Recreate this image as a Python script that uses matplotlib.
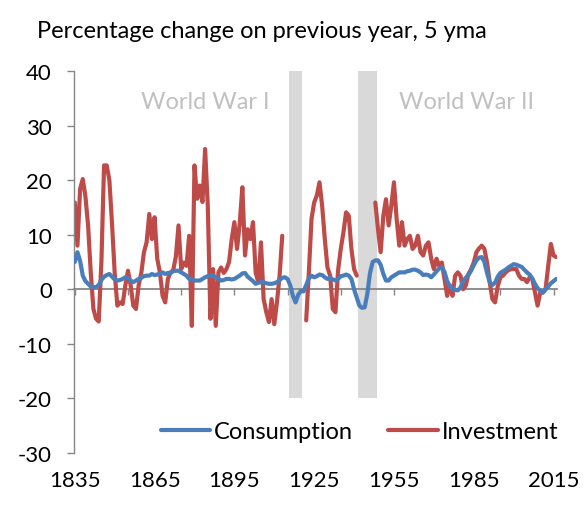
import numpy as np
import matplotlib
matplotlib.use("Agg")
import matplotlib.pyplot as plt

plt.rcParams['font.family'] = ['Lato', 'DejaVu Sans']

years = np.arange(1835, 2017)

consumption = [
    5.0, 6.8, 5.2, 2.5, 1.5, 1.0, 0.5, 0.4, 0.4, 0.8,
    1.7, 2.3, 2.6, 2.8, 2.3, 1.8, 1.6, 1.7, 1.9, 2.2,
    2.0, 1.6, 1.3, 1.6, 1.9, 2.1, 2.4, 2.5, 2.5, 2.8,
    2.6, 2.7, 2.9, 3.1, 2.8, 3.0, 3.0, 3.3, 3.4, 3.4,
    3.1, 2.8, 2.5, 1.9, 1.9, 1.6, 1.6, 1.6, 1.9, 2.2,
    2.4, 2.5, 2.5, 2.2, 1.9, 1.6, 1.7, 1.9, 1.9, 1.8,
    1.9, 2.2, 2.5, 2.9, 3.0, 2.3, 1.9, 1.5, 1.0, 1.2,
    1.3, 1.3, 1.1, 1.0, 1.0, 1.1, 1.3, 1.7, 2.1, 2.2,
    1.9, 0.7, -1.2, -2.4, -1.0, -0.3, -0.4, 0.8, 2.0, 2.5,
    2.2, 2.4, 2.7, 2.6, 2.2, 1.9, 2.1, 1.8, 1.6, 1.9,
    2.4, 2.5, 2.7, 2.5, 1.9, 0.0, -1.5, -3.0, -3.4, -3.3,
    -0.8, 3.0, 5.0, 5.3, 5.3, 4.5, 2.8, 1.6, 1.6, 2.2,
    2.5, 2.8, 3.1, 3.1, 3.1, 3.3, 3.4, 3.6, 3.6, 3.4,
    3.1, 2.6, 2.7, 2.6, 2.2, 2.7, 3.3, 3.8, 4.0, 3.2,
    1.5, 0.6, 0.1, -0.1, -0.2, 0.3, 1.5, 2.1, 2.6, 3.4,
    4.4, 5.3, 5.8, 5.9, 5.0, 3.0, 1.3, 0.8, 1.2, 2.3,
    3.0, 3.3, 3.6, 4.0, 4.3, 4.6, 4.5, 4.3, 4.1, 3.6,
    3.1, 2.7, 2.0, 1.0, 0.2, -0.3, -0.6, 0.0, 0.5, 1.1,
    1.5, 1.9,
]

nan = np.nan
investment = [
    15.9, 8.0, 18.4, 20.2, 17.0, 11.7, 3.1, -3.6, -5.4, -5.9,
    5.0, 22.7, 22.7, 20.0, 12.0, 3.0, -3.0, -2.4, -2.7, 0.7,
    3.4, 0.7, -3.0, -3.6, 0.7, 3.0, 6.8, 8.6, 13.8, 9.2,
    13.2, 5.6, 3.1, -1.2, -2.4, 1.9, 3.1, 3.5, 6.0, 11.7,
    3.7, 4.9, 4.3, 9.8, -6.7, 22.7, 16.6, 19.0, 16.0, 25.7,
    15.3, -5.4, 3.7, -6.7, 3.1, 4.0, 3.0, 3.7, 5.0, 9.2,
    12.3, 7.4, 12.0, 18.7, 6.2, 11.0, 9.2, 12.3, 3.1, 1.3,
    8.6, -1.8, -4.2, -6.0, -1.8, -6.4, -2.4, 2.5, 9.8, nan,
    nan, nan, nan, nan, nan, nan, nan, -5.7, 3.1, 12.9,
    15.9, 17.2, 19.6, 15.3, 9.2, 4.0, 2.5, -3.6, -4.2, 3.5,
    7.4, 10.4, 14.1, 13.5, 7.4, 3.7, 2.5, nan, nan, nan,
    nan, nan, nan, 15.9, 11.0, 6.8, 13.5, 16.5, 11.7, 15.3,
    19.6, 12.9, 8.0, 12.3, 8.0, 9.2, 9.8, 7.4, 8.0, 9.8,
    6.8, 6.2, 8.0, 8.6, 5.6, 3.7, 5.6, 4.3, 4.9, 1.9,
    -1.2, 0.7, -1.2, 2.5, 3.1, 2.5, 0.0, 0.7, 2.8, 3.7,
    4.9, 6.8, 7.5, 8.0, 7.4, 4.9, 1.3, -1.8, -2.4, 0.5,
    2.2, 2.5, 3.1, 3.5, 3.7, 3.7, 3.7, 2.5, 1.9, 1.9,
    1.3, 2.2, 1.9, -0.6, -3.0, -0.6, -0.6, 0.0, 4.3, 8.3,
    6.2, 5.9,
]

war_years = [1916, 1917, 1918, 1919, 1920, 1942, 1943, 1944, 1945, 1946, 1947, 1948]
war_top = 40
war_bottom = -20

tick_years = list(range(1835, 2016, 20))
label_years = [1835, 1865, 1895, 1925, 1955, 1985, 2015]
y_ticks = [40, 30, 20, 10, 0, -10, -20, -30]

W, H = 588, 506
fig = plt.figure(figsize=(W / 100, H / 100), dpi=100)
ax = fig.add_axes([74 / W, 1 - 454 / H, (557 - 74) / W, (454 - 72) / H])

FS = 17
FS_TICK = 16
grey_axis = '#868686'

# war bands
ax.bar(war_years, war_top - war_bottom, bottom=war_bottom, width=0.97,
       color='#d9d9d9', edgecolor='none', zorder=0)

ax.plot(years, consumption, color='#4a7ebb', lw=3.0, label='Consumption',
        zorder=3, solid_capstyle='round', solid_joinstyle='round')
ax.plot(years, investment, color='#be4b48', lw=3.0, label='Investment',
        zorder=2, solid_capstyle='round', solid_joinstyle='round')

ax.set_xlim(1834.7, 2016.3)
ax.set_ylim(-30, 40)

for s in ['top', 'right']:
    ax.spines[s].set_visible(False)
ax.spines['left'].set_color(grey_axis)
ax.spines['left'].set_linewidth(1.0)
ax.spines['bottom'].set_position(('data', 0))
ax.spines['bottom'].set_color(grey_axis)
ax.spines['bottom'].set_linewidth(1.3)
ax.spines['bottom'].set_zorder(1)

ax.set_yticks(y_ticks)
ax.set_yticklabels([str(v) for v in y_ticks])
ax.tick_params(axis='y', length=5, width=1, color=grey_axis, pad=11,
               labelsize=FS_TICK, labelcolor='#000000')
ax.set_xticks(tick_years)
ax.tick_params(axis='x', length=4, width=1, color=grey_axis, labelbottom=False)

sec = ax.secondary_xaxis(0.0)
sec.set_xticks(label_years)
sec.set_xticklabels([str(v) for v in label_years])
sec.spines['bottom'].set_visible(False)
sec.tick_params(length=0, pad=12, labelsize=FS_TICK)

ax.text(1883.9, 34.5, 'World War I', color='#c0c0c0', fontsize=FS,
        ha='center', va='center')
ax.text(1982.2, 34.5, 'World War II', color='#c0c0c0', fontsize=FS,
        ha='center', va='center')

leg = ax.legend(loc='center', bbox_to_anchor=(0.591, 0.055), ncol=2,
                frameon=False, fontsize=FS, handlelength=2.1,
                handletextpad=0.15, columnspacing=1.5, borderaxespad=0)

fig.text(37 / W, 1 - 32 / H, 'Percentage change on previous year, 5 yma',
         fontsize=FS, ha='left', va='center', color='#000000')

fig.savefig('out.png', dpi=100)
